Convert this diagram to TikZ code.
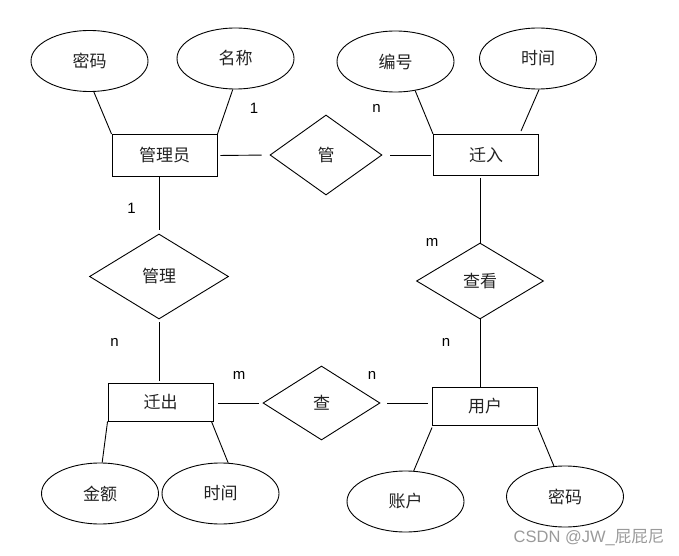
\documentclass[tikz,border=0pt]{standalone}
\usepackage{fontspec}
\setmainfont{Liberation Sans}
\newfontfamily\cjk{Noto Sans CJK SC}
\usetikzlibrary{shapes.geometric}
\definecolor{Ink}{HTML}{222222}
\definecolor{Mark}{HTML}{9A9A9A}

\begin{document}
\begin{tikzpicture}[x=1pt,y=-1pt,line width=0.9pt,
    attr/.style={draw,ellipse,minimum width=117pt,minimum height=61pt,inner sep=0pt,
      font=\cjk\fontsize{17}{20}\selectfont,text=Ink},
    entity/.style={draw,rectangle,minimum width=105pt,minimum height=40pt,inner sep=0pt,
      font=\cjk\fontsize{17}{20}\selectfont,text=Ink},
    rel/.style={draw,diamond,inner sep=0pt,font=\cjk\fontsize{17}{20}\selectfont,text=Ink},
    card/.style={font=\fontsize{15}{17}\selectfont}]
    \useasboundingbox (0,0) rectangle (679,556);

    % attributes on top
    \node[attr] (mima1) at (89.5,61) {密码};
    \node[attr] (mingcheng) at (235.5,58.5) {名称};
    \node[attr] (bianhao) at (395.5,61.5) {编号};
    \node[attr] (shijian1) at (538,58.5) {时间};

    % entities and relations
    \node[entity,minimum height=42pt] (admin) at (164.5,155.5) {管理员};
    \node[rel,minimum width=112pt,minimum height=80pt] (guan) at (326,155) {管};
    \node[entity,minimum height=41pt] (qianru) at (486,155) {迁入};
    \node[rel,minimum width=139pt,minimum height=85pt] (guanli) at (159,276.5) {管理};
    \node[rel,minimum width=127pt,minimum height=76pt] (chakan) at (480,281) {查看};
    \node[entity,minimum height=38pt] (qianchu) at (160.5,402) {迁出};
    \node[rel,minimum width=117pt,minimum height=74pt] (cha) at (321.5,403) {查};
    \node[entity,minimum height=38pt] (yonghu) at (485,406) {用户};

    % attributes at the bottom
    \node[attr] (jine) at (100,493.5) {金额};
    \node[attr] (shijian2) at (220.5,493.5) {时间};
    \node[attr] (zhanghu) at (405.5,501.5) {账户};
    \node[attr] (mima2) at (565,496.5) {密码};

    % attribute links
    \draw (mima1.-82) -- (admin.north west);
    \draw (mingcheng.-95) -- (admin.north east);
    \draw (bianhao.-56) -- (qianru.north west);
    \draw (shijian1.-88) -- ([xshift=35pt,yshift=3pt]qianru.north);
    \draw (jine.86) -- (qianchu.south west);
    \draw (shijian2.76) -- ([xshift=-2pt]qianchu.south east);
    \draw (zhanghu.75) -- ([yshift=-2pt]yonghu.south west);
    \draw (mima2.110) -- ([yshift=-2pt]yonghu.south east);

    % relation links
    \draw[shorten <=3pt,shorten >=8pt] (admin.east) -- (guan.west);
    \draw[shorten <=8pt,shorten >=2pt] (guan.east) -- (qianru.west);
    \draw[shorten >=4pt] (admin.south -| guanli) -- (guanli.north);
    \draw[shorten <=3pt,shorten >=2pt] (guanli.south) -- (qianchu.north -| guanli);
    \draw[shorten <=5pt,shorten >=4pt] (qianchu.east |- cha) -- (cha.west);
    \draw[shorten <=7pt,shorten >=4pt] (cha.east) -- (yonghu.west |- cha);
    \draw[shorten <=2pt] (qianru.south -| chakan) -- (chakan.north);
    \draw (chakan.south) -- (yonghu.north -| chakan);

    % cardinalities
    \node[card] (k1) at (254,108) {1};
    \node[card] (k2) at (376.5,108.5) {n};
    \node[card] (k3) at (131.5,208) {1};
    \node[card] (k4) at (432,242) {m};
    \node[card] (k5) at (114.5,342) {n};
    \node[card] (k6) at (239,375) {m};
    \node[card] (k7) at (446,342.5) {n};
    \node[card] (k8) at (372,375) {n};

    \node[font=\fontsize{16.5}{18}\selectfont,text=Mark] (wm) at (589,538) {CSDN @JW\_{\cjk 屁屁尼}};
\end{tikzpicture}
\end{document}
